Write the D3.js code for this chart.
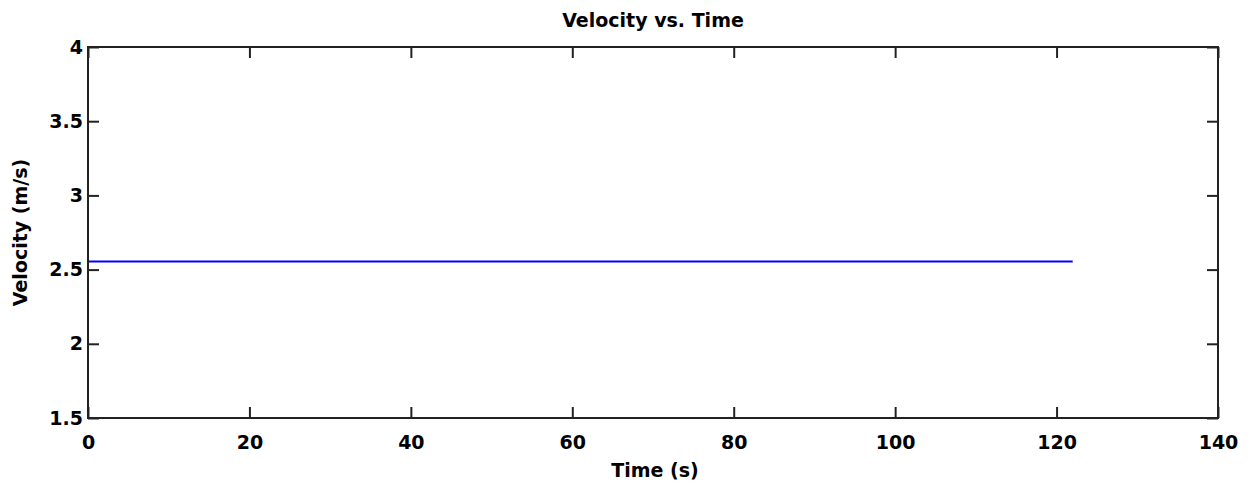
<!DOCTYPE html>
<html>
<head>
<meta charset="utf-8">
<script src="https://cdn.jsdelivr.net/npm/d3@7"></script>
<style>
	body { margin: 0; background: #fff; }
	svg text { font-family: "DejaVu Sans", sans-serif; font-weight: bold; fill: #000; }
</style>
</head>
<body>
<div id="chart"></div>
<script>
	'use strict';

	// data
	var times = [0, 122];
	var velocity = [2.555, 2.555];
	var xTicks = [0, 20, 40, 60, 80, 100, 120, 140];
	var yTicks = [1.5, 2, 2.5, 3, 3.5, 4];

	var width = 1250,
		height = 487,
		margin = { top: 47, right: 32, bottom: 69, left: 88 };
	var innerW = width - margin.left - margin.right,
		innerH = height - margin.top - margin.bottom;

	var svg = d3.select('#chart').append('svg')
		.attr('width', width)
		.attr('height', height);

	var g = svg.append('g')
		.attr('transform', 'translate(' + margin.left + ',' + margin.top + ')');

	var x = d3.scaleLinear().domain([0, 140]).range([0, innerW]);
	var y = d3.scaleLinear().domain([1.5, 4]).range([innerH, 0]);

	var tickLen = 11;

	// line
	var points = times.map(function (t, i) { return [t, velocity[i]]; });
	g.append('path')
		.datum(points)
		.attr('fill', 'none')
		.attr('stroke', '#0000ff')
		.attr('stroke-width', 2)
		.attr('d', d3.line()
			.x(function (d) { return x(d[0]); })
			.y(function (d) { return y(d[1]); }));

	// ticks pointing inward on all four sides
	function styleAxis(sel) {
		sel.select('.domain').remove();
		sel.selectAll('.tick line').attr('stroke', '#222').attr('stroke-width', 2);
		sel.selectAll('.tick text').attr('font-size', '19px');
	}

	g.append('g')
		.attr('transform', 'translate(0,' + innerH + ')')
		.call(d3.axisBottom(x).tickValues(xTicks).tickSize(-tickLen).tickPadding(18).tickFormat(d3.format('d')))
		.call(styleAxis);

	g.append('g')
		.call(d3.axisTop(x).tickValues(xTicks).tickSize(-tickLen).tickFormat(''))
		.call(styleAxis);

	g.append('g')
		.call(d3.axisLeft(y).tickValues(yTicks).tickSize(-tickLen).tickPadding(5).tickFormat(d3.format('')))
		.call(styleAxis);

	g.append('g')
		.attr('transform', 'translate(' + innerW + ',0)')
		.call(d3.axisRight(y).tickValues(yTicks).tickSize(-tickLen).tickFormat(''))
		.call(styleAxis);

	// box
	g.append('rect')
		.attr('width', innerW)
		.attr('height', innerH)
		.attr('fill', 'none')
		.attr('stroke', '#222')
		.attr('stroke-width', 2);

	// titles
	svg.append('text')
		.attr('x', margin.left + innerW / 2)
		.attr('y', 27)
		.attr('text-anchor', 'middle')
		.attr('font-size', '19px')
		.text('Velocity vs. Time');

	svg.append('text')
		.attr('x', 655)
		.attr('y', 477)
		.attr('text-anchor', 'middle')
		.attr('font-size', '19px')
		.text('Time (s)');

	svg.append('text')
		.attr('transform', 'translate(27,' + (margin.top + innerH / 2) + ') rotate(-90)')
		.attr('text-anchor', 'middle')
		.attr('font-size', '19px')
		.text('Velocity (m/s)');
</script>
</body>
</html>
